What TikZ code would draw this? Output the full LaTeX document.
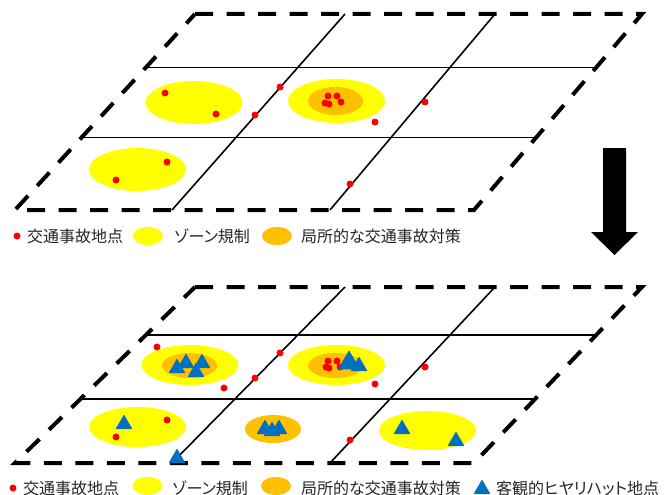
\documentclass[tikz,border=0pt]{standalone}
\usepackage{fontspec}
\newfontfamily\jp{Noto Sans CJK JP}[RawFeature=+palt]
\definecolor{zoneY}{HTML}{FFFF00}
\definecolor{zoneO}{HTML}{FFC000}
\definecolor{accR}{HTML}{FF0000}
\definecolor{triB}{HTML}{0070C0}
\tikzset{
  border/.style={line width=4pt, dash pattern=on 18pt off 13.5pt, line join=miter},
  grid/.style={line width=1.6pt},
  yzone/.style={fill=zoneY},
  ozone/.style={fill=zoneO},
  acc/.style={fill=accR},
  tri/.pic={\fill[triB, draw=triB, line width=1pt, line join=round] (-7.5,6.5)--(7.5,6.5)--(0,-6.5)--cycle;},
  lbl/.style={anchor=west, inner sep=0pt, font=\jp\fontsize{16}{17}\selectfont, text=black!85}
}
\newcommand\accdot[1]{\fill[acc] (#1) circle (3.5pt);}
\newcommand\yel[3]{\fill[yzone] (#1,#2) ellipse [x radius=48.5pt, y radius=#3pt];}
\newcommand\ora[4]{\fill[ozone] (#1,#2) ellipse [x radius=#3pt, y radius=#4pt];}
\begin{document}
\begin{tikzpicture}[x=1pt,y=-1pt]
\useasboundingbox (0,0) rectangle (667,495);
\fill[white] (0,0) rectangle (667,495);

% ---------- top diagram ----------
\coordinate (tA) at (195,14);
\coordinate (tB) at (642,14);
\coordinate (tC) at (474,210);
\coordinate (tD) at (15,210);
\yel{194}{102.5}{21.5}
\yel{336.5}{101}{22}
\ora{335.5}{101}{27.5}{14}
\yel{137.5}{169.5}{21.5}
\draw[grid] (144,67.5) -- (598,67.5);
\draw[grid] (81,137.5) -- (536,137.5);
\draw[grid] (345,14) -- (172,210);
\draw[grid] (495,14) -- (330,210);
\draw[border] (tA) -- (tB) -- (tC) -- (tD) -- cycle;
\foreach \p in {{165,93},{216,114},{280,87},{255,115},{375,122},{425,102},{167,162},{116,180},{350,184},
  {328,96},{337,96},{325,103},{329,104},{341,102}} {\expandafter\accdot\expandafter{\p}}

% legend top
\fill[acc] (17,236) circle (3.5pt);
\node[lbl] (lt1) at (27,236) {交通事故地点};
\fill[yzone] (148,236) ellipse [x radius=15pt, y radius=9pt];
\node[lbl] (lt2) at (174,236) {ゾーン規制};
\fill[ozone] (277,236) ellipse [x radius=15pt, y radius=9pt];
\node[lbl] (lt3) at (301,236) {局所的な交通事故対策};

% arrow
\fill[black] (603,148) -- (626,148) -- (626,232) -- (638,232) -- (614.5,255) -- (591,232) -- (603,232) -- cycle;

% ---------- bottom diagram ----------
\coordinate (bA) at (195,287);
\coordinate (bB) at (642,287);
\coordinate (bC) at (474,463);
\coordinate (bD) at (15,463);
\yel{190}{365}{20}
\ora{189.5}{365.5}{27.5}{12.5}
\yel{336.5}{365}{20}
\ora{335.5}{365.5}{27.5}{12.5}
\yel{137.5}{427}{20}
\ora{273}{429}{28}{14}
\yel{427.5}{430.5}{19.5}
\draw[grid] (146,335) -- (597,335);
\draw[grid] (80,399) -- (533,399);
\draw[grid] (345,287) -- (172,463);
\draw[grid] (495,287) -- (330,463);
\draw[border] (bA) -- (bB) -- (bC) -- (bD) -- cycle;
\foreach \p in {{157,347},{224,388},{280,353},{255,378},{375,384},{425,367},{167,420},{116,437},{350,440},
  {328,361},{337,361},{326,367},{329,368},{340,367}} {\expandafter\accdot\expandafter{\p}}
% triangles
\foreach \p in {{177,366},{186,361},{202,361},{196,370},{265,427},{279,427},{272,429},{124,422},{402,427},{456,439},{177,456},{359,364}}
  {\pic at (\p) {tri};}
\pic[scale=1.35] at (349,360) {tri};

% legend bottom
\fill[acc] (13,488) circle (3.5pt);
\node[lbl] (lb1) at (23,488) {交通事故地点};
\fill[yzone] (147.5,486) ellipse [x radius=15pt, y radius=9pt];
\node[lbl] (lb2) at (172,488) {ゾーン規制};
\fill[ozone] (276,486) ellipse [x radius=15pt, y radius=9pt];
\node[lbl] (lb3) at (301,488) {局所的な交通事故対策};
\pic at (482,487) {tri};
\node[lbl] (lb4) at (496,488) {客観的ヒヤリハット地点};
\end{tikzpicture}
\end{document}
